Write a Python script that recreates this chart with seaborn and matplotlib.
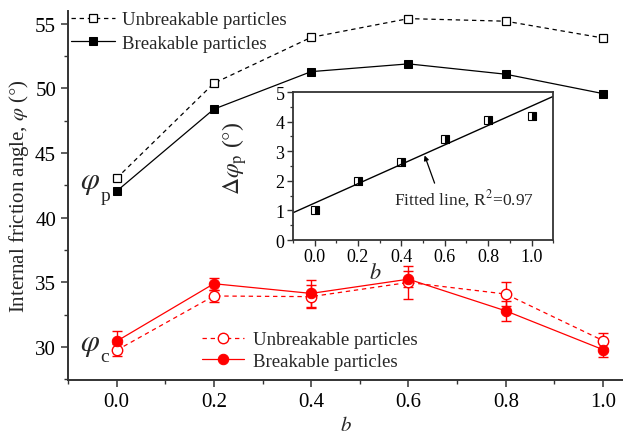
import numpy as np
import pandas as pd
import matplotlib
matplotlib.use("Agg")
import matplotlib.pyplot as plt
from matplotlib.ticker import MultipleLocator
import seaborn as sns

# Intermediate principal stress parameter
b_values = [0.0, 0.2, 0.4, 0.6, 0.8, 1.0]

# Peak friction angle (deg)
peak_unbreakable = [43.05, 50.4, 53.95, 55.4, 55.2, 53.9]
peak_breakable = [42.05, 48.4, 51.3, 51.9, 51.1, 49.6]

# Critical-state friction angle (deg) with scatter
crit_unbreakable = [29.75, 33.95, 33.9, 35.0, 34.1, 30.5]
crit_unbreakable_err = [0.45, 0.5, 0.9, 1.3, 0.9, 0.6]
crit_breakable = [30.45, 34.9, 34.15, 35.25, 32.8, 29.8]
crit_breakable_err = [0.78, 0.45, 1.05, 0.6, 0.8, 0.55]

# Drop of peak friction angle due to breakage (deg)
delta_peak = [1.0, 2.0, 2.65, 3.4, 4.07, 4.2]

legend_labels = ["Unbreakable particles", "Breakable particles"]

sns.set_theme(style="ticks")
plt.rcParams["font.family"] = ["Liberation Serif", "DejaVu Serif"]
plt.rcParams["mathtext.fontset"] = "stix"
plt.rcParams["axes.edgecolor"] = "#333333"
plt.rcParams["xtick.color"] = "#333333"
plt.rcParams["ytick.color"] = "#333333"
plt.rcParams["xtick.labelcolor"] = "black"
plt.rcParams["ytick.labelcolor"] = "black"

fig = plt.figure(figsize=(6.23, 4.39), dpi=100)
ax = fig.add_axes([0.109, 0.132, 0.891, 0.841])

# Peak friction angles
sns.lineplot(x=b_values, y=peak_unbreakable, ax=ax, color="black", linestyle=(0, (3.5, 3)),
             linewidth=0.9, marker="s", markersize=6, markerfacecolor="white",
             markeredgecolor="black", markeredgewidth=0.9)
h_pu = ax.lines[-1]
sns.lineplot(x=b_values, y=peak_breakable, ax=ax, color="black", linestyle="-",
             linewidth=0.9, marker="s", markersize=6, markerfacecolor="black",
             markeredgecolor="black")
h_pb = ax.lines[-1]

# Critical-state friction angles
ax.errorbar(b_values, crit_unbreakable, yerr=crit_unbreakable_err, fmt="none",
            ecolor="red", elinewidth=1, capsize=3.5, capthick=1)
ax.errorbar(b_values, crit_breakable, yerr=crit_breakable_err, fmt="none",
            ecolor="red", elinewidth=1, capsize=3.5, capthick=1)
sns.lineplot(x=b_values, y=crit_unbreakable, ax=ax, color="red", linestyle=(0, (3.5, 3)),
             linewidth=0.9, marker="o", markersize=7.5, markerfacecolor="white",
             markeredgecolor="red", markeredgewidth=1)
h_cu = ax.lines[-1]
sns.lineplot(x=b_values, y=crit_breakable, ax=ax, color="red", linestyle="-",
             linewidth=0.9, marker="o", markersize=7.5, markerfacecolor="red",
             markeredgecolor="red")
h_cb = ax.lines[-1]

ax.set_xlim(-0.1, 1.041)
ax.set_ylim(27.45, 56.0)
ax.xaxis.set_minor_locator(MultipleLocator(0.1))
ax.yaxis.set_major_locator(MultipleLocator(5))
ax.yaxis.set_minor_locator(MultipleLocator(2.5))
ax.set_xticks(b_values)
ax.set_xticklabels([f"{v:.1f}" for v in b_values])
ax.tick_params(axis="both", which="major", direction="out", length=5, width=1.1,
               labelsize=15)
ax.tick_params(axis="both", which="minor", direction="out", length=3, width=1.0)
for side in ["top", "right"]:
    ax.spines[side].set_visible(False)
for side in ["left", "bottom"]:
    ax.spines[side].set_linewidth(1.4)

ax.set_xlabel(r"$b$", fontsize=15, labelpad=4)
ax.set_ylabel(r"Internal friction angle, $\varphi$ ($\degree$)", fontsize=15, labelpad=3)

# Curve group labels: phi with its subscript
ax.text(-0.075, 42.8, r"$\varphi$", fontsize=22, ha="left", va="center")
ax.text(-0.033, 41.75, "p", fontsize=14, ha="left", va="center")
ax.text(-0.075, 30.25, r"$\varphi$", fontsize=22, ha="left", va="center")
ax.text(-0.033, 29.3, "c", fontsize=14, ha="left", va="center")

leg1 = ax.legend([h_pu, h_pb], legend_labels, loc="upper left",
                 bbox_to_anchor=(-0.014, 1.03), frameon=False, fontsize=13.5,
                 handlelength=2.3, handletextpad=0.4, labelspacing=0.35,
                 borderaxespad=0.2)
ax.add_artist(leg1)
ax.legend([h_cu, h_cb], legend_labels, loc="lower left",
          bbox_to_anchor=(0.222, -0.003), frameon=False, fontsize=13.5,
          handlelength=2.2, handletextpad=0.5, labelspacing=0.25,
          borderaxespad=0.2)

# Inset: drop of peak friction angle with linear fit
ins = fig.add_axes([0.470, 0.451, 0.418, 0.337])
sns.lineplot(x=b_values, y=delta_peak, ax=ins, linestyle="", marker="s",
             markersize=5.5, markerfacecolor="black", markerfacecoloralt="white",
             fillstyle="right", markeredgecolor="black", markeredgewidth=0.8)
slope, intercept = np.polyfit(b_values, delta_peak, 1)
fit_x = np.array([-0.1, 1.1])
ins.plot(fit_x, slope * fit_x + intercept, color="black", linewidth=1.0)

ins.set_xlim(-0.1, 1.1)
ins.set_ylim(0, 5)
ins.set_xticks(b_values)
ins.set_xticklabels([f"{v:.1f}" for v in b_values])
ins.xaxis.set_minor_locator(MultipleLocator(0.1))
ins.yaxis.set_major_locator(MultipleLocator(1))
ins.yaxis.set_minor_locator(MultipleLocator(0.5))
ins.tick_params(axis="both", which="major", direction="out", length=4, width=1.0,
                labelsize=13, pad=2)
ins.tick_params(axis="both", which="minor", direction="out", length=2.5, width=0.9)
for side in ins.spines.values():
    side.set_linewidth(1.3)
ins.set_xlabel(r"$b$", fontsize=16)
ins.xaxis.set_label_coords(0.315, -0.155)
ins.set_ylabel(r"$\Delta\varphi_{\rm p}$ ($\degree$)", fontsize=17)
ins.yaxis.set_label_coords(-0.17, 0.56)

tip_x = 0.505
ins.annotate(r"Fitted line, R$^2$=0.97", xy=(tip_x, slope * tip_x + intercept),
             xytext=(0.69, 1.4), fontsize=12.5, ha="center", va="center",
             arrowprops=dict(arrowstyle="-|>", color="black", lw=0.9,
                             shrinkA=1, shrinkB=1, mutation_scale=7,
                             relpos=(0.3, 1.0)))

fig.savefig("out.png", dpi=100)
